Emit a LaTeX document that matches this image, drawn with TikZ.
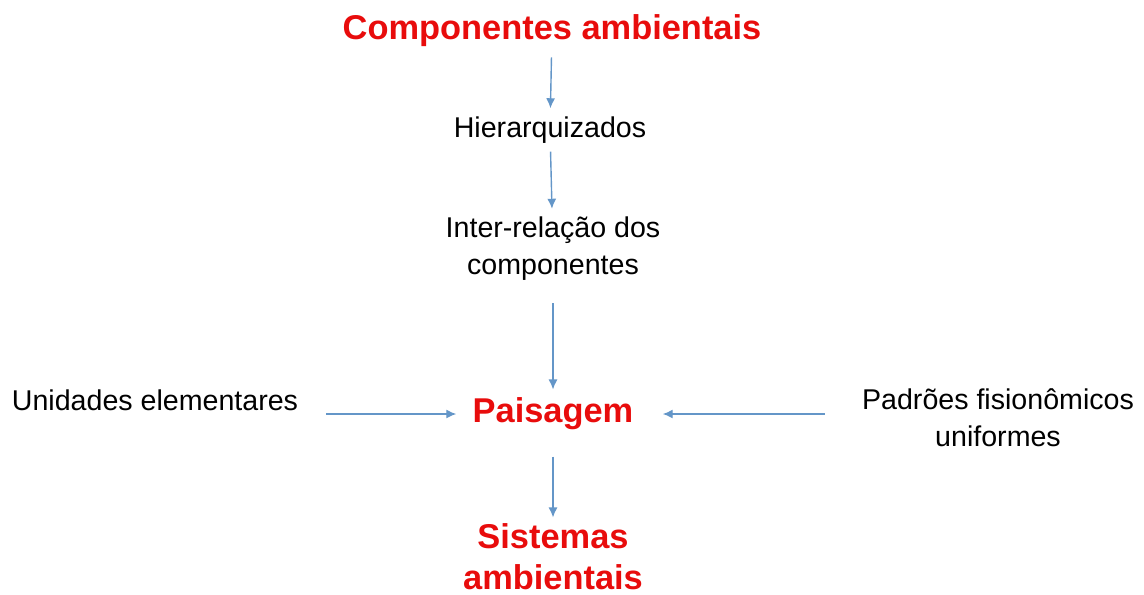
\documentclass[tikz,border=0pt]{standalone}
\usepackage{fontspec}
\setmainfont{Liberation Sans}
\usetikzlibrary{arrows.meta}
\definecolor{titred}{RGB}{232,12,12}
\definecolor{flowblue}{RGB}{100,150,200}

\begin{document}
\begin{tikzpicture}[x=0.5pt,y=-0.5pt,
            term/.style={font=\fontsize{14.3}{18.5}\selectfont,align=center,inner sep=4pt},
            core/.style={font=\bfseries\fontsize{17.2}{20.5}\selectfont,text=titred,align=center,inner sep=4pt},
            flow/.style={-{Latex[length=5pt,width=4.5pt]},flowblue,line width=0.7pt}]
 \useasboundingbox (0,0) rectangle (1144,594);

 \node[core] (comp) at (552,31) {Componentes ambientais};
 \node[term] (hier) at (550,130) {Hierarquizados};
 \node[term] (inter) at (553,249) {Inter-rela\c{c}\~ao dos\\componentes};
 \node[core] (pais) at (553,414) {Paisagem};
 \node[term] (unid) at (155,400) {Unidades elementares};
 \node[term] (padr) at (998,418) {Padr\~oes fision\^omicos\\uniformes};
 \node[core,inner sep=2pt] (sist) at (553,557) {Sistemas\\ambientais};

 \draw[flow,shorten <=1pt] (comp) -- (hier);
 \draw[flow] (hier) -- (inter);
 \draw[flow,shorten <=7pt] (inter) -- (pais);
 \draw[flow,shorten <=10pt,shorten >=4pt] (unid.east |- pais) -- (pais.west);
 \draw[flow,shorten <=14.5pt,shorten >=10.5pt] (padr.west |- pais) -- (pais.east);
 \draw[flow,shorten <=9pt,shorten >=1pt] (pais) -- (sist);
\end{tikzpicture}
\end{document}
